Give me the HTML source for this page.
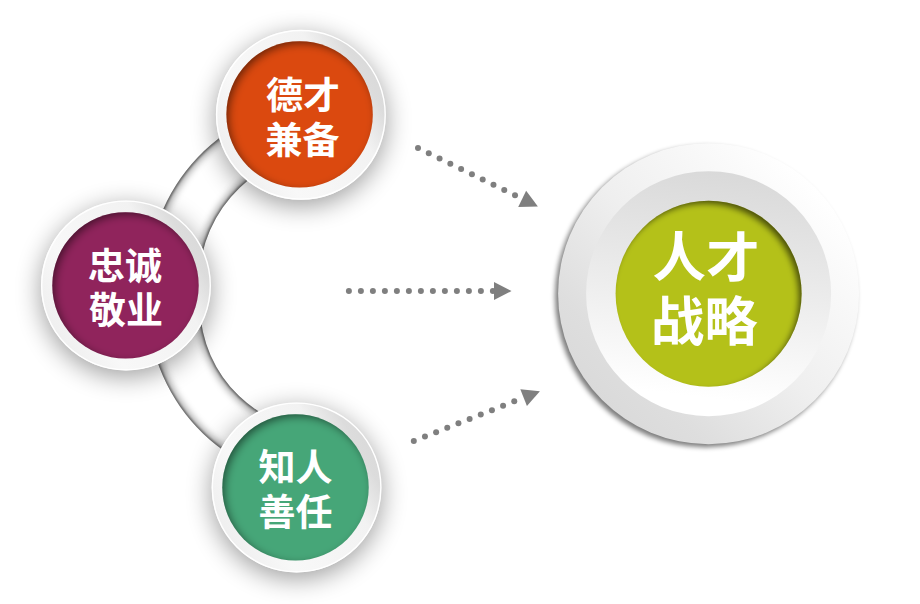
<!DOCTYPE html>
<html><head><meta charset="utf-8"><title>人才战略</title>
<style>html,body{margin:0;padding:0;background:#fff;font-family:"Liberation Sans",sans-serif;}svg{display:block}</style></head>
<body>
<svg width="920" height="604" viewBox="0 0 920 604">
<defs>
<filter id="ds" x="-50%" y="-50%" width="200%" height="200%"><feGaussianBlur stdDeviation="13"/><feOffset dx="0" dy="6"/><feComponentTransfer><feFuncA type="linear" slope="0.39"/></feComponentTransfer></filter>
<filter id="dsB" x="-20%" y="-20%" width="140%" height="140%"><feGaussianBlur stdDeviation="2.6"/><feOffset dx="-3.4" dy="3.4"/><feComponentTransfer><feFuncA type="linear" slope="0.52"/></feComponentTransfer></filter>
<filter id="blur4" x="-20%" y="-20%" width="140%" height="140%"><feGaussianBlur stdDeviation="5"/></filter>
<filter id="blur35" x="-20%" y="-20%" width="140%" height="140%"><feGaussianBlur stdDeviation="3.5"/></filter><filter id="blur07" x="-20%" y="-20%" width="140%" height="140%"><feGaussianBlur stdDeviation="1.1"/></filter>
<filter id="blur3" x="-20%" y="-20%" width="140%" height="140%"><feGaussianBlur stdDeviation="3"/></filter>
<linearGradient id="ringg" x1="0.933" y1="0.25" x2="0.067" y2="0.75"><stop offset="0" stop-color="#dadada"/><stop offset="0.07" stop-color="#dcdcdc"/><stop offset="0.25" stop-color="#f2f2f2"/><stop offset="0.4" stop-color="#f4f4f4"/><stop offset="0.75" stop-color="#f8f8f8"/><stop offset="1" stop-color="#efefef"/></linearGradient>
<linearGradient id="outg" x1="0.8536" y1="0.1464" x2="0.1464" y2="0.8536"><stop offset="0" stop-color="#ffffff"/><stop offset="0.146" stop-color="#fafafa"/><stop offset="0.5" stop-color="#efefef"/><stop offset="0.854" stop-color="#dedede"/><stop offset="1" stop-color="#dadada"/></linearGradient>
<linearGradient id="midg" x1="0.56" y1="0" x2="0.44" y2="1"><stop offset="0" stop-color="#d9d9d9"/><stop offset="0.5" stop-color="#ededed"/><stop offset="0.92" stop-color="#ffffff"/></linearGradient>
<clipPath id="cbt"><path d="M150.47 314.49A182.5 182.5 0 0 1 298.51 103.07L307.42 153.59A131.2 131.2 0 0 0 200.99 305.58Z"/></clipPath><clipPath id="cbb"><path d="M295.98 480.68A179.2 179.2 0 0 1 150.62 273.08L201.83 282.11A127.2 127.2 0 0 0 305.01 429.47Z"/></clipPath><clipPath id="clip1"><circle cx="299.6" cy="114.4" r="73.2"/></clipPath><clipPath id="clip3"><circle cx="295.5" cy="487.4" r="73.2"/></clipPath><clipPath id="clip2"><circle cx="125.5" cy="285.4" r="73.2"/></clipPath><clipPath id="clipB"><circle cx="708.6" cy="293.7" r="93"/></clipPath>
</defs>
<rect width="920" height="604" fill="#fff"/>
<path d="M150.47 314.49A182.5 182.5 0 0 1 298.51 103.07L307.42 153.59A131.2 131.2 0 0 0 200.99 305.58Z" fill="#fff"/><g clip-path="url(#cbt)"><path d="M150.47 314.49A182.5 182.5 0 0 1 298.51 103.07L307.42 153.59A131.2 131.2 0 0 0 200.99 305.58Z" fill="none" stroke="#000" stroke-opacity="0.36" stroke-width="8" filter="url(#blur35)"/><path d="M150.47 314.49A182.5 182.5 0 0 1 298.51 103.07L307.42 153.59A131.2 131.2 0 0 0 200.99 305.58Z" fill="none" stroke="#000" stroke-opacity="0.5" stroke-width="3" filter="url(#blur07)"/></g><path d="M295.98 480.68A179.2 179.2 0 0 1 150.62 273.08L201.83 282.11A127.2 127.2 0 0 0 305.01 429.47Z" fill="#fff"/><g clip-path="url(#cbb)"><path d="M295.98 480.68A179.2 179.2 0 0 1 150.62 273.08L201.83 282.11A127.2 127.2 0 0 0 305.01 429.47Z" fill="none" stroke="#000" stroke-opacity="0.36" stroke-width="8" filter="url(#blur35)"/><path d="M295.98 480.68A179.2 179.2 0 0 1 150.62 273.08L201.83 282.11A127.2 127.2 0 0 0 305.01 429.47Z" fill="none" stroke="#000" stroke-opacity="0.5" stroke-width="3" filter="url(#blur07)"/></g><g role="img" aria-label="德才兼备"><title>德才兼备</title>
<circle cx="300.9" cy="114.85" r="85" fill="#000" filter="url(#ds)"/>
<circle cx="300.9" cy="114.85" r="85" fill="url(#ringg)"/>
<circle cx="300.9" cy="114.85" r="84.3" fill="none" stroke="#fff" stroke-width="1.4"/>
<circle cx="299.6" cy="114.4" r="73.2" fill="#DB490F"/>
<g clip-path="url(#clip1)"><path filter="url(#blur4)" fill="#000" fill-opacity="0.55" fill-rule="evenodd" d="M179.60000000000002 -5.599999999999994h240v240h-240z M228.10000000000002 117.4a74.5 74.5 0 1 0 149 0a74.5 74.5 0 1 0 -149 0z"/></g>
<text x="303" y="109.2" font-size="37" font-weight="bold" text-anchor="middle" fill="#fff" font-family="&quot;Liberation Sans&quot;, &quot;Noto Sans CJK SC&quot;, sans-serif">德才</text><text x="302.5" y="153.6" font-size="37" font-weight="bold" text-anchor="middle" fill="#fff" font-family="&quot;Liberation Sans&quot;, &quot;Noto Sans CJK SC&quot;, sans-serif">兼备</text></g>
<g role="img" aria-label="知人善任"><title>知人善任</title>
<circle cx="296.6" cy="487.4" r="85" fill="#000" filter="url(#ds)"/>
<circle cx="296.6" cy="487.4" r="85" fill="url(#ringg)"/>
<circle cx="296.6" cy="487.4" r="84.3" fill="none" stroke="#fff" stroke-width="1.4"/>
<circle cx="295.5" cy="487.4" r="73.2" fill="#46A678"/>
<g clip-path="url(#clip3)"><path filter="url(#blur4)" fill="#000" fill-opacity="0.55" fill-rule="evenodd" d="M175.5 367.4h240v240h-240z M224.0 490.4a74.5 74.5 0 1 0 149 0a74.5 74.5 0 1 0 -149 0z"/></g>
<text x="295.6" y="481.1" font-size="37" font-weight="bold" text-anchor="middle" fill="#fff" font-family="&quot;Liberation Sans&quot;, &quot;Noto Sans CJK SC&quot;, sans-serif">知人</text><text x="295.6" y="526.3" font-size="37" font-weight="bold" text-anchor="middle" fill="#fff" font-family="&quot;Liberation Sans&quot;, &quot;Noto Sans CJK SC&quot;, sans-serif">善任</text></g>
<g role="img" aria-label="忠诚敬业"><title>忠诚敬业</title>
<circle cx="126" cy="285.4" r="85" fill="#000" filter="url(#ds)"/>
<circle cx="126" cy="285.4" r="85" fill="url(#ringg)"/>
<circle cx="126" cy="285.4" r="84.3" fill="none" stroke="#fff" stroke-width="1.4"/>
<circle cx="125.5" cy="285.4" r="73.2" fill="#90245C"/>
<g clip-path="url(#clip2)"><path filter="url(#blur4)" fill="#000" fill-opacity="0.55" fill-rule="evenodd" d="M5.5 165.39999999999998h240v240h-240z M54.0 288.4a74.5 74.5 0 1 0 149 0a74.5 74.5 0 1 0 -149 0z"/></g>
<text x="125" y="279.9" font-size="37" font-weight="bold" text-anchor="middle" fill="#fff" font-family="&quot;Liberation Sans&quot;, &quot;Noto Sans CJK SC&quot;, sans-serif">忠诚</text><text x="126" y="324.2" font-size="37" font-weight="bold" text-anchor="middle" fill="#fff" font-family="&quot;Liberation Sans&quot;, &quot;Noto Sans CJK SC&quot;, sans-serif">敬业</text></g>
<g fill="#7f7f7f"><circle cx="418.00" cy="147.90" r="3"/><circle cx="428.78" cy="153.17" r="3"/><circle cx="439.56" cy="158.44" r="3"/><circle cx="450.34" cy="163.71" r="3"/><circle cx="461.12" cy="168.98" r="3"/><circle cx="471.91" cy="174.25" r="3"/><circle cx="482.69" cy="179.52" r="3"/><circle cx="493.47" cy="184.78" r="3"/><circle cx="504.25" cy="190.05" r="3"/><circle cx="515.03" cy="195.32" r="3"/><path d="M537.90 206.50L518.23 206.90L526.13 190.73Z"/><circle cx="348.90" cy="291.10" r="3"/><circle cx="360.90" cy="291.10" r="3"/><circle cx="372.90" cy="291.10" r="3"/><circle cx="384.90" cy="291.10" r="3"/><circle cx="396.90" cy="291.10" r="3"/><circle cx="408.90" cy="291.10" r="3"/><circle cx="420.90" cy="291.10" r="3"/><circle cx="432.90" cy="291.10" r="3"/><circle cx="444.90" cy="291.10" r="3"/><circle cx="456.90" cy="291.10" r="3"/><circle cx="468.90" cy="291.10" r="3"/><circle cx="480.90" cy="291.10" r="3"/><circle cx="492.90" cy="291.10" r="3"/><path d="M511.50 291.10L494.00 300.10L494.00 282.10Z"/><circle cx="413.80" cy="441.00" r="3"/><circle cx="424.96" cy="436.59" r="3"/><circle cx="436.12" cy="432.18" r="3"/><circle cx="447.28" cy="427.78" r="3"/><circle cx="458.44" cy="423.37" r="3"/><circle cx="469.61" cy="418.96" r="3"/><circle cx="480.77" cy="414.55" r="3"/><circle cx="491.93" cy="410.15" r="3"/><circle cx="503.09" cy="405.74" r="3"/><circle cx="514.25" cy="401.33" r="3"/><path d="M539.90 391.20L526.93 406.00L520.32 389.26Z"/></g><g role="img" aria-label="人才战略"><title>人才战略</title>
<circle cx="708.6" cy="293.7" r="150.5" fill="#000" filter="url(#dsB)"/>
<circle cx="708.6" cy="293.7" r="150.5" fill="url(#outg)"/>
<circle cx="708.6" cy="293.7" r="122.5" fill="url(#midg)"/>
<circle cx="708.6" cy="293.7" r="93" fill="#B4C119"/>
<g clip-path="url(#clipB)"><path filter="url(#blur3)" fill="#000" fill-opacity="0.6" fill-rule="evenodd" d="M558.6 143.7h300v300h-300z M611.0 297.3a94 94 0 1 0 188 0a94 94 0 1 0 -188 0z"/></g>
<text x="706" y="276.8" font-size="53.5" font-weight="bold" text-anchor="middle" fill="#fff" font-family="&quot;Liberation Sans&quot;, &quot;Noto Sans CJK SC&quot;, sans-serif">人才</text><text x="704.3" y="340.7" font-size="53.5" font-weight="bold" text-anchor="middle" fill="#fff" font-family="&quot;Liberation Sans&quot;, &quot;Noto Sans CJK SC&quot;, sans-serif">战略</text></g>
</svg>
</body></html>
